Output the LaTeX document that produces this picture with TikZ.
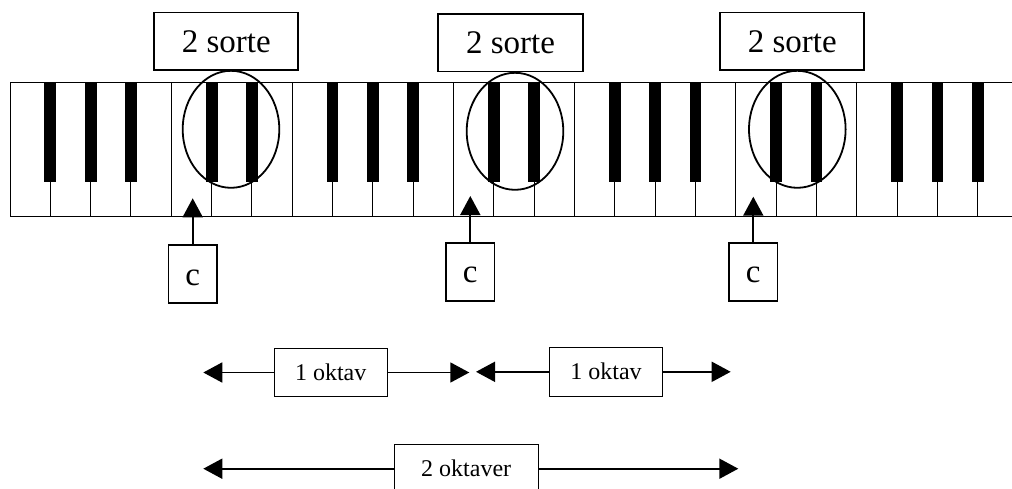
\documentclass[tikz,border=0pt]{standalone}
\usepackage{fontspec}
\setmainfont{Liberation Serif}
\usetikzlibrary{arrows.meta,shapes.geometric}

\tikzset{
    >={Triangle[length=19pt,width=20pt]},
    sortebox/.style={draw, line width=1.8pt, inner sep=0pt, minimum width=144.3pt, minimum height=57.5pt,
        text height=22.3pt, text depth=0pt, font=\fontsize{33}{36}\selectfont},
    cbox/.style={sortebox, minimum width=48.5pt, minimum height=58pt},
    oktavbox/.style={draw, line width=1pt, inner sep=0pt, minimum width=113.4pt, minimum height=48.4pt,
        text height=16.2pt, text depth=0pt, font=\fontsize{24}{28}\selectfont},
    ring/.style={draw, ellipse, line width=1.8pt, inner sep=0pt, minimum width=96.6pt, minimum height=117pt},
    pil/.style={->, line width=1.8pt},
}

\begin{document}
\begin{tikzpicture}[x=1pt,y=-1pt]

    \useasboundingbox (0,0) rectangle (1012,488);
    \clip (0,0) rectangle (1012,488);

    % tangenter
    \draw[line width=1pt] (1014,82.7) -- (10,82.7) -- (10,216.7) -- (1014,216.7);
    \foreach \k in {1,...,24} {
        \pgfmathsetmacro\kx{10+\k*40.33}
        \pgfmathtruncatemacro\kmod{mod(\k,7)}
        \ifnum\kmod=0
            \draw[line width=1pt] (\kx,82.7) -- (\kx,216.7);
        \else\ifnum\kmod=4
            \draw[line width=1pt] (\kx,82.7) -- (\kx,216.7);
        \else
            \fill (\kx-5.85,82.7) rectangle (\kx+5.85,181.7);
            \draw[line width=1pt] (\kx,181.7) -- (\kx,216.7);
        \fi\fi
    }

    % de to sorte
    \node[ring] (ring1) at (231,129.3) {};
    \node[ring] (ring2) at (515,131.3) {};
    \node[ring] (ring3) at (797.3,129.3) {};

    \node[sortebox] (sorte1) at (226.2,41.3) {2 sorte};
    \node[sortebox] (sorte2) at (510.5,42.8) {2 sorte};
    \node[sortebox] (sorte3) at (792.2,41.3) {2 sorte};

    % c
    \node[cbox] (c1) at (192.7,273.9) {c};
    \node[cbox] (c2) at (470.3,271.8) {c};
    \node[cbox] (c3) at (753.3,271.7) {c};

    \coordinate (c1tip) at (192.7,198.3);
    \coordinate (c2tip) at (470.3,196);
    \coordinate (c3tip) at (753.3,196.7);

    \draw[pil] (c1.north) -- (c1tip);
    \draw[pil] (c2.north) -- (c2tip);
    \draw[pil] (c3.north) -- (c3tip);

    % oktaver
    \node[oktavbox] (okt1) at (330.7,372.5) {1 oktav};
    \node[oktavbox] (okt2) at (606,371.8) {1 oktav};
    \node[oktavbox, minimum width=144.3pt] (okt12) at (466.2,468.7) {2 oktaver};

    \coordinate (okt1l) at (203.3,372.5);
    \coordinate (okt1r) at (469.3,372.5);
    \coordinate (okt2l) at (476,371.8);
    \coordinate (okt2r) at (730.7,371.8);
    \coordinate (okt12l) at (203.3,468.7);
    \coordinate (okt12r) at (738.3,468.7);

    \draw[pil] (okt1.west) -- (okt1l);
    \draw[pil] (okt1.east) -- (okt1r);
    \draw[pil] (okt2.west) -- (okt2l);
    \draw[pil] (okt2.east) -- (okt2r);
    \draw[pil] (okt12.west) -- (okt12l);
    \draw[pil] (okt12.east) -- (okt12r);

\end{tikzpicture}
\end{document}
